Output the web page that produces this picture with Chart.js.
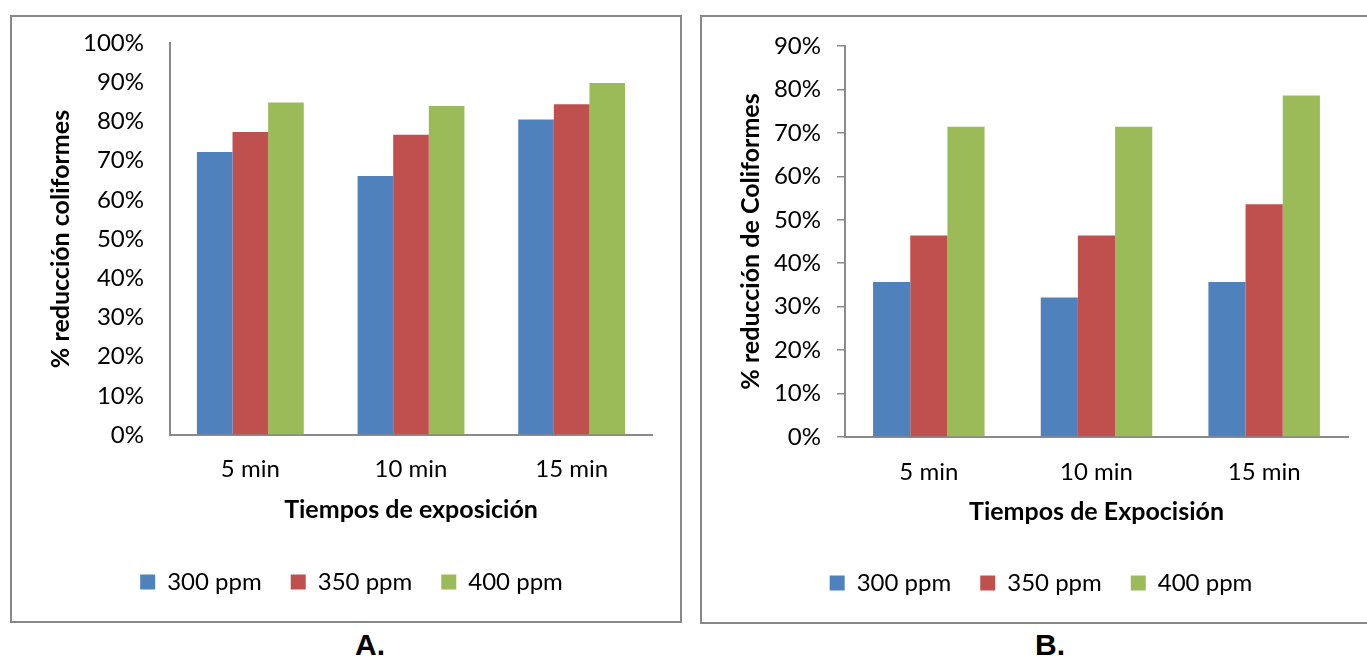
<!DOCTYPE html>
<html>
<head>
<meta charset="utf-8">
<script src="https://cdn.jsdelivr.net/npm/chart.js@4/dist/chart.umd.min.js"></script>
<style>
  html, body { margin: 0; padding: 0; background: #fff; }
  body { width: 1367px; height: 659px; position: relative; overflow: hidden; }
  .frame { position: absolute; box-sizing: border-box; border: 2px solid #888; }
  canvas { position: absolute; }
  .tag { position: absolute; width: 80px; text-align: center; font: bold 30px "Liberation Sans", Arial, sans-serif; line-height: 30px; color: #000; }
</style>
</head>
<body>
<div class="frame" style="left:10px;top:15px;width:672px;height:608px;"></div>
<div class="frame" style="left:700px;top:15px;width:700px;height:609px;"></div>
<canvas id="chartA" width="671" height="607" style="left:10px;top:15px;"></canvas>
<canvas id="chartB" width="666" height="608" style="left:701px;top:15px;"></canvas>
<div class="tag" style="left:330px;top:630px;">A.</div>
<div class="tag" style="left:1010px;top:630px;">B.</div>
<script>
// Exposure times (x categories)
const categories = ['5 min', '10 min', '15 min'];
const seriesNames = ['300 ppm', '350 ppm', '400 ppm'];

// Panel A: % coliform reduction
const a300 = [72.2, 66.1, 80.5];
const a350 = [77.3, 76.6, 84.4];
const a400 = [84.8, 83.9, 89.8];

// Panel B: % coliform reduction
const b300 = [35.7, 32.1, 35.7];
const b350 = [46.4, 46.4, 53.6];
const b400 = [71.4, 71.4, 78.6];

const yMaxA = 100;
const yMaxB = 90;
const yStep = 10;

const colors = ['#4F81BD', '#C0504D', '#9BBB59'];
const FONT = 'Lato, "Open Sans", sans-serif';
const AXIS = '#8a8a8a';
const TXT = 24;   // tick and legend text
const TTL = 25;   // axis titles

function makeDatasets(lists) {
  return lists.map((vals, i) => ({
    label: seriesNames[i],
    data: vals,
    backgroundColor: colors[i],
    borderWidth: 0,
    categoryPercentage: 0.665,
    barPercentage: 1.0
  }));
}

function makeChart(id, lists, cfg) {
  return new Chart(document.getElementById(id), {
    type: 'bar',
    data: { labels: categories, datasets: makeDatasets(lists) },
    options: {
      responsive: false,
      animation: false,
      layout: { padding: cfg.pad },
      plugins: {
        tooltip: { enabled: false },
        legend: {
          position: 'bottom',
          labels: {
            boxWidth: 15, boxHeight: 15, padding: 29,
            color: '#000',
            font: { family: FONT, size: TXT }
          }
        }
      },
      scales: {
        x: {
          grid: { display: false, drawTicks: false },
          border: { display: true, color: AXIS, width: 2 },
          ticks: { color: '#000', padding: cfg.xTickPad, font: { family: FONT, size: TXT } },
          title: {
            display: true, text: cfg.xTitle, color: '#000',
            font: { family: FONT, size: TTL, weight: 'bold' },
            padding: { top: 0, bottom: cfg.xTitlePad }
          },
          afterFit: s => { s.height = cfg.xHeight; }
        },
        y: {
          min: 0, max: cfg.yMax,
          // tick marks outside the axis; invisible ones on panel A keep the label gap
          grid: {
            display: true, drawOnChartArea: false, drawTicks: true,
            tickLength: cfg.tickLen, color: cfg.tickColor, lineWidth: 1.5
          },
          border: { display: true, color: AXIS, width: 2 },
          ticks: {
            stepSize: yStep, color: '#000', padding: cfg.yTickPad,
            font: { family: FONT, size: TXT },
            callback: v => v + '%'
          },
          title: {
            display: true, text: cfg.yTitle, color: '#000',
            font: { family: FONT, size: TTL, weight: 'bold' },
            padding: { top: cfg.yTitlePad, bottom: 0 }
          },
          afterFit: s => { s.width = cfg.yWidth; }
        }
      }
    }
  });
}

makeChart('chartA', [a300, a350, a400], {
  pad: { top: 28, right: 29, bottom: 18, left: 41 },
  yMax: yMaxA, tickLen: 20, tickColor: 'rgba(0,0,0,0)',
  yWidth: 119, yTickPad: 6, yTitlePad: -5,
  yTitle: '% reducción coliformes',
  xTitle: 'Tiempos de exposición',
  xHeight: 106, xTickPad: 20, xTitlePad: 16
});

makeChart('chartB', [b300, b350, b400], {
  pad: { top: 31, right: 19, bottom: 18, left: 33 },
  yMax: yMaxB, tickLen: 8, tickColor: AXIS,
  yWidth: 111, yTickPad: 16, yTitlePad: 2,
  yTitle: '% reducción de Coliformes',
  xTitle: 'Tiempos de Expocisión',
  xHeight: 105, xTickPad: 21, xTitlePad: 15
});
</script>
</body>
</html>
